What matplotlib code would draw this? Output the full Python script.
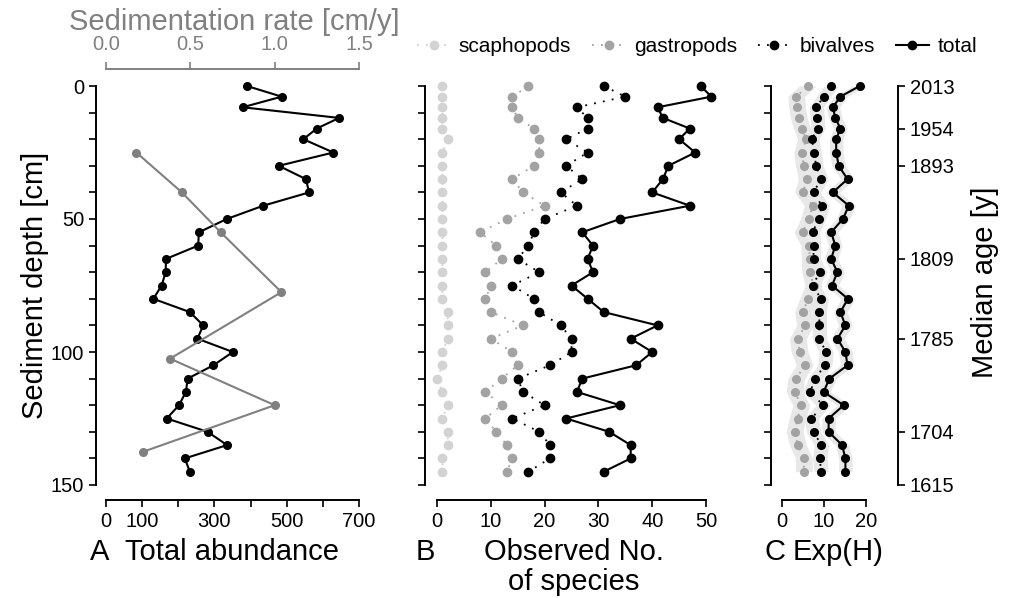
import matplotlib
matplotlib.use("Agg")
import matplotlib.pyplot as plt
from matplotlib.lines import Line2D

plt.rcParams["font.family"] = ["Liberation Sans", "DejaVu Sans"]

# ---------------- data ----------------
depth = [0, 4, 8, 12, 16, 20, 25, 30, 35, 40, 45, 50, 55, 60, 65, 70,
         75, 80, 85, 90, 95, 100, 105, 110, 115, 120, 125, 130, 135, 140, 145]
total_abund = [390, 486, 378, 645, 583, 546, 629, 478, 553, 562, 435, 334, 257, 255, 166, 165,
               154, 131, 232, 269, 253, 351, 297, 226, 221, 202, 168, 281, 335, 218, 232]
sed_depth = [25, 40, 55, 77.5, 102.5, 120, 137.5]
sed_rate = [0.18, 0.45, 0.68, 1.04, 0.38, 1.00, 0.22]

n_scaph = [1, 1, 1, 1, 1, 2, 1, 1, 1, 1, 1, 1, 1, 1, 1, 1,
           1, 1, 2, 2, 2, 1, 1, 0, 1, 2, 1, 2, 2, 1, 1]
n_gastro = [17, 14, 14, 15, 18, 19, 19, 18, 14, 16, 20, 13, 8, 11, 12, 9,
            10, 9, 10, 16, 10, 14, 15, 12, 9, 12, 9, 11, 13, 14, 13]
n_biv = [31, 35, 26, 28, 28, 24, 28, 24, 27, 23, 26, 20, 18, 17, 15, 19,
         14, 18, 19, 23, 25, 25, 21, 15, 16, 20, 14, 19, 21, 21, 17]
n_total = [49, 51, 41, 42, 47, 45, 48, 43, 42, 40, 47, 34, 27, 29, 28, 29,
           25, 28, 31, 41, 36, 40, 37, 27, 26, 34, 24, 32, 36, 36, 31]

expH_gastro = [6.1, 3.4, 3.6, 4.0, 4.8, 5.7, 4.8, 5.2, 5.9, 5.0, 7.3, 6.4, 4.9, 6.5, 6.6, 6.7,
               7.5, 6.2, 5.0, 5.5, 3.8, 4.2, 5.4, 3.4, 3.0, 4.6, 3.7, 3.0, 3.8, 5.2, 5.2]
expH_biv = [11.7, 9.9, 8.2, 8.4, 8.5, 7.1, 7.7, 8.1, 9.3, 7.5, 9.5, 8.7, 7.3, 7.5, 7.5, 9.0,
            7.3, 9.3, 8.9, 8.9, 8.9, 10.5, 10.2, 7.9, 6.7, 9.8, 7.0, 7.5, 9.4, 9.0, 9.3]
expH_total = [18.5, 13.9, 12.1, 12.7, 13.9, 12.9, 12.9, 13.5, 15.6, 12.1, 15.9, 14.5, 11.7, 12.7, 11.7, 13.2,
              11.9, 15.7, 13.9, 15.1, 13.2, 15.1, 15.6, 11.3, 9.9, 14.7, 11.1, 11.1, 14.3, 15.1, 15.1]
ci_half = {"gastro": 2.0, "biv": 1.7, "total": 1.6}   # approx. half-width of grey bands

age_depth = [0, 16, 30, 65, 95, 130, 150]
age_labels = ["2013", "1954", "1893", "1809", "1785", "1704", "1615"]

# ---------------- style ----------------
W, H = 1018, 598
PX = 0.72                     # points per pixel at dpi=100
C_SCA, C_GAS, C_SED, C_BAND = "#d3d3d3", "#a3a3a3", "#808080", "#e8e8e8"
TFS, LFS = 14.5, 21
DOT = (0, (1, 4))


def rect(x0, x1, y0, y1):
    return [x0 / W, 1 - y1 / H, (x1 - x0) / W, (y1 - y0) / H]


def style(ax, xticks, xlabels, left_out, ylabels=False):
    ax.set_ylim(150, 0)
    ax.set_xlim(xticks[0], xticks[-1])
    ax.patch.set_visible(False)
    for sp in ("top", "right"):
        ax.spines[sp].set_visible(False)
    for sp in ("left", "bottom"):
        ax.spines[sp].set_linewidth(1.4)
    ax.spines["left"].set_position(("outward", left_out * PX))
    ax.spines["bottom"].set_position(("outward", 15 * PX))
    ax.spines["left"].set_bounds(0, 150)
    ax.spines["bottom"].set_bounds(xticks[0], xticks[-1])
    ax.set_xticks(xticks)
    ax.set_xticklabels(xlabels)
    yt = list(range(0, 151, 10))
    ax.set_yticks(yt)
    ax.set_yticklabels([str(v) if (ylabels and v % 50 == 0) else "" for v in yt])
    ax.tick_params(direction="out", length=5, width=1.2, labelsize=TFS, pad=3.5)


fig = plt.figure(figsize=(W / 100, H / 100), dpi=100)
axA = fig.add_axes(rect(106, 359, 86, 485))
axB = fig.add_axes(rect(437, 706, 86, 485))
axC = fig.add_axes(rect(782, 866, 86, 485))

# ---- A: total abundance + sedimentation rate ----
style(axA, list(range(0, 701, 100)),
      ["0", "100", "", "300", "", "500", "", "700"], 10, ylabels=True)
axA.plot(total_abund, depth, "-o", color="black", lw=1.5, ms=5.5, clip_on=False, zorder=3)

axT = axA.twiny()
axT.set_xlim(0, 1.5)
axT.set_ylim(150, 0)
for sp in ("left", "right", "bottom"):
    axT.spines[sp].set_visible(False)
axT.spines["top"].set_position(("outward", 17 * PX))
axT.spines["top"].set_bounds(0, 1.5)
axT.spines["top"].set_color(C_SED)
axT.spines["top"].set_linewidth(1.4)
axT.set_xticks([0, 0.5, 1.0, 1.5])
axT.set_xticklabels(["0.0", "0.5", "1.0", "1.5"])
axT.tick_params(axis="x", direction="out", length=5, width=1.2, colors=C_SED,
                labelsize=TFS, pad=6)
axT.plot(sed_rate, sed_depth, "-o", color=C_SED, lw=1.5, ms=5.5, clip_on=False, zorder=2)

# ---- B: observed number of species ----
style(axB, [0, 10, 20, 30, 40, 50], ["0", "10", "20", "30", "40", "50"], 12)
axB.plot(n_scaph, depth, color=C_SCA, ls=DOT, lw=1.3, marker="o", ms=6, clip_on=False)
axB.plot(n_gastro, depth, color=C_GAS, ls=DOT, lw=1.3, marker="o", ms=6, clip_on=False)
axB.plot(n_biv, depth, color="black", ls=DOT, lw=1.3, marker="o", ms=6, clip_on=False)
axB.plot(n_total, depth, color="black", ls="-", lw=1.5, marker="o", ms=6, clip_on=False)

# ---- C: exp(H) with grey bands ----
style(axC, [0, 10, 20], ["0", "10", "20"], 11)
for vals, key in ((expH_gastro, "gastro"), (expH_biv, "biv"), (expH_total, "total")):
    h = ci_half[key]
    axC.fill_betweenx(depth, [v - h for v in vals], [v + h for v in vals],
                      color=C_BAND, lw=0, zorder=1, clip_on=False)
axC.plot(expH_gastro, depth, color=C_GAS, ls=DOT, lw=1.3, marker="o", ms=5.5, clip_on=False, zorder=3)
axC.plot(expH_biv, depth, color="black", ls=DOT, lw=1.3, marker="o", ms=5.5, clip_on=False, zorder=3)
axC.plot(expH_total, depth, color="black", ls="-", lw=1.5, marker="o", ms=5.5, clip_on=False, zorder=3)

axR = axC.twinx()
axR.set_ylim(150, 0)
for sp in ("left", "top", "bottom"):
    axR.spines[sp].set_visible(False)
axR.spines["right"].set_position(("outward", 32 * PX))
axR.spines["right"].set_bounds(0, 150)
axR.spines["right"].set_linewidth(1.4)
axR.set_yticks(age_depth)
axR.set_yticklabels(age_labels)
axR.tick_params(axis="y", direction="out", length=5, width=1.2, labelsize=TFS, pad=3.5)

# ---- texts ----
fy = lambda y: 1 - y / H
fig.text(35 / W, fy(285), "Sediment depth [cm]", rotation=90, ha="center", va="center", fontsize=LFS)
fig.text(985 / W, fy(282), "Median age [y]", rotation=90, ha="center", va="center", fontsize=LFS)
fig.text(234 / W, fy(22), "Sedimentation rate [cm/y]", ha="center", va="center",
         fontsize=LFS, color=C_SED)
fig.text(90 / W, fy(552), "A", ha="left", va="center", fontsize=LFS)
fig.text(232 / W, fy(552), "Total abundance", ha="center", va="center", fontsize=LFS)
fig.text(416 / W, fy(552), "B", ha="left", va="center", fontsize=LFS)
fig.text(574 / W, fy(552), "Observed No.", ha="center", va="center", fontsize=LFS)
fig.text(574 / W, fy(582), "of species", ha="center", va="center", fontsize=LFS)
fig.text(765 / W, fy(552), "C", ha="left", va="center", fontsize=LFS)
fig.text(793 / W, fy(552), "Exp(H)", ha="left", va="center", fontsize=LFS)

# ---- legend ----
handles = [Line2D([0], [0], color=C_SCA, ls=DOT, lw=1.3, marker="o", ms=6),
           Line2D([0], [0], color=C_GAS, ls=DOT, lw=1.3, marker="o", ms=6),
           Line2D([0], [0], color="black", ls=DOT, lw=1.3, marker="o", ms=6),
           Line2D([0], [0], color="black", ls="-", lw=1.5, marker="o", ms=6)]
fig.legend(handles, ["scaphopods", "gastropods", "bivalves", "total"], ncol=4, frameon=False,
           loc="center", bbox_to_anchor=(697 / W, fy(47)), fontsize=15, handlelength=1.6,
           handletextpad=0.4, columnspacing=1.0, borderpad=0)

fig.savefig("out.png", dpi=100)
